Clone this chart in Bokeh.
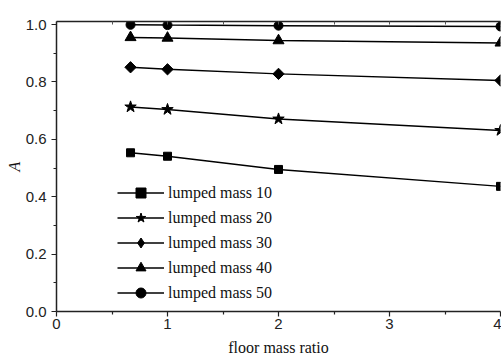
from bokeh.plotting import figure
from bokeh.models import (Range1d, LinearAxis, Legend, LegendItem, FixedTicker,
                          NumeralTickFormatter, CustomJSTickFormatter)
from bokeh.embed import file_html
from bokeh.resources import INLINE
import math

# data
floor_mass_ratio = [0.667, 1.0, 2.0, 4.0]
lumped_10 = [0.553, 0.541, 0.495, 0.436]
lumped_20 = [0.713, 0.704, 0.671, 0.631]
lumped_30 = [0.851, 0.844, 0.828, 0.805]
lumped_40 = [0.955, 0.953, 0.944, 0.936]
lumped_50 = [0.999, 0.998, 0.996, 0.993]
series_labels = ["lumped mass 10", "lumped mass 20", "lumped mass 30", "lumped mass 40", "lumped mass 50"]
x_ticks = [0, 1, 2, 3, 4]
x_minor = [0.5, 1.5, 2.5, 3.5]
y_ticks = [0.0, 0.2, 0.4, 0.6, 0.8, 1.0]
y_minor = [0.1, 0.3, 0.5, 0.7, 0.9]

p = figure(width=501, height=358, output_backend="svg", toolbar_location=None,
           x_range=Range1d(0, 4.0), y_range=Range1d(0, 1.0105),
           min_border_left=56, min_border_right=1, min_border_top=21, min_border_bottom=47)
p.background_fill_color = "white"
p.border_fill_color = "white"
p.grid.visible = False
p.outline_line_color = None

for ax in (p.xaxis[0], p.yaxis[0]):
    ax.axis_line_color = "#222222"
    ax.axis_line_width = 1.5
    ax.major_tick_line_color = "#222222"
    ax.minor_tick_line_color = "#222222"
    ax.major_tick_line_width = 1.2
    ax.minor_tick_line_width = 1.2
    ax.major_tick_in = 0
    ax.major_tick_out = 5
    ax.minor_tick_in = 0
    ax.minor_tick_out = 3
    ax.major_label_text_font = "Liberation Sans"
    ax.major_label_text_font_size = "15px"
    ax.major_label_text_color = "#222222"
    ax.axis_label_text_font = "Liberation Serif"
    ax.axis_label_text_font_size = "16px"
    ax.axis_label_text_font_style = "normal"
    ax.axis_label_text_color = "#111111"

p.xaxis[0].ticker = FixedTicker(ticks=x_ticks, minor_ticks=x_minor)
p.yaxis[0].ticker = FixedTicker(ticks=y_ticks, minor_ticks=y_minor)
p.yaxis[0].formatter = NumeralTickFormatter(format="0.0")
p.xaxis[0].axis_label = "floor mass ratio"
p.xaxis[0].axis_label_standoff = 7
p.xaxis[0].major_label_standoff = 2
p.yaxis[0].axis_label = "A"
p.yaxis[0].axis_label_text_font_style = "italic"
p.yaxis[0].axis_label_standoff = 0
p.yaxis[0].major_label_standoff = 5

top = LinearAxis(ticker=FixedTicker(ticks=x_ticks, minor_ticks=x_minor),
                 formatter=CustomJSTickFormatter(code="return '';"),
                 axis_line_color="#222222", axis_line_width=1.5,
                 major_tick_in=3, major_tick_out=0,
                 minor_tick_in=3, minor_tick_out=0,
                 major_tick_line_color="#555555", minor_tick_line_color="#555555",
                 major_label_standoff=0)
p.add_layout(top, "above")

series = [lumped_10, lumped_20, lumped_30, lumped_40, lumped_50]
markers = [("square", 8, 0), ("star", 12, 0), ("square", 8, math.pi / 4), ("triangle", 11, 0), ("circle", 9, 0)]
items = []
for ys, (mk, sz, ang), lab in zip(series, markers, series_labels):
    r1 = p.line(floor_mass_ratio, ys, line_color="black", line_width=1.5)
    r2 = p.scatter(floor_mass_ratio, ys, marker=mk, size=sz, angle=ang,
                   fill_color="black", line_color="black")
    rends = [r1, r2]
    if ang != 0:
        r3 = p.scatter(floor_mass_ratio, ys, marker="diamond", size=sz,
                       fill_color="black", line_color="black", visible=False)
        rends = [r1, r3]
    items.append(LegendItem(label=lab, renderers=rends))

legend = Legend(items=items, location=(61, 6), padding=0, margin=0,
                glyph_width=47, glyph_height=25, label_height=25, spacing=0,
                label_standoff=4, border_line_color=None, background_fill_alpha=0,
                inactive_fill_alpha=0,
                label_text_font="Liberation Serif", label_text_font_size="16px",
                label_text_color="#111111")
p.add_layout(legend, "center")

open("out.html", "w").write(file_html(p, INLINE))
